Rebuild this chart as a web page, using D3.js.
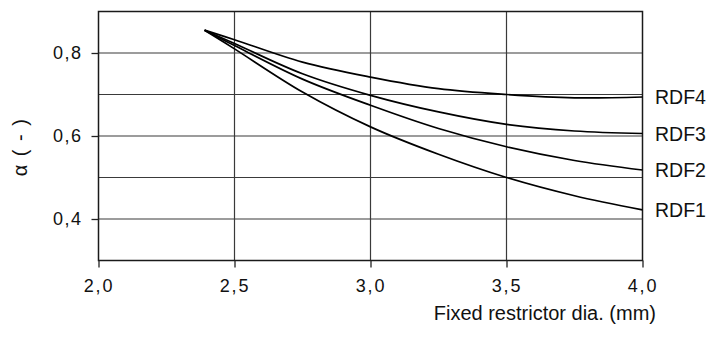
<!DOCTYPE html>
<html>
<head>
<meta charset="utf-8">
<script src="https://cdn.jsdelivr.net/npm/d3@7"></script>
<style>
  body { margin: 0; background: #fff; }
  svg text { font-family: "Liberation Sans", Arial, sans-serif; fill: #111; }
</style>
</head>
<body>
<svg></svg>
<script>
const width = 708;
const height = 338;

// diameters (mm)
const diameters = [2.39, 2.5, 2.75, 3.0, 3.25, 3.5, 3.75, 4.0];

const seriesNames = ["RDF1", "RDF2", "RDF3", "RDF4"];

const rdf1 = [0.855, 0.810, 0.706, 0.622, 0.556, 0.500, 0.456, 0.422];
const rdf2 = [0.855, 0.818, 0.737, 0.674, 0.618, 0.574, 0.541, 0.518];
const rdf3 = [0.855, 0.823, 0.750, 0.698, 0.658, 0.628, 0.612, 0.606];
const rdf4 = [0.855, 0.832, 0.778, 0.742, 0.714, 0.700, 0.692, 0.694];

const xTicks = [2.0, 2.5, 3.0, 3.5, 4.0];
const yGrid = [0.4, 0.5, 0.6, 0.7, 0.8];
const yLabelled = [0.4, 0.6, 0.8];

const svg = d3.select("svg")
  .attr("width", width)
  .attr("height", height);

const x = d3.scaleLinear().domain([2.0, 4.0]).range([98.5, 642.5]);
const y = d3.scaleLinear().domain([0.3, 0.9]).range([260.5, 11.5]);

const fmt = d => d3.format(".1f")(d).replace(".", ",");

// grid
svg.append("g")
  .selectAll("line")
  .data(yGrid)
  .join("line")
  .attr("x1", x.range()[0])
  .attr("x2", x.range()[1])
  .attr("y1", d => y(d))
  .attr("y2", d => y(d))
  .attr("stroke", "#3a3a3a")
  .attr("stroke-width", 1.2);

svg.append("g")
  .selectAll("line")
  .data(xTicks.slice(1, -1))
  .join("line")
  .attr("x1", d => x(d))
  .attr("x2", d => x(d))
  .attr("y1", y.range()[1])
  .attr("y2", y.range()[0])
  .attr("stroke", "#3a3a3a")
  .attr("stroke-width", 1.2);

// frame
svg.append("rect")
  .attr("x", x.range()[0])
  .attr("y", y.range()[1])
  .attr("width", x.range()[1] - x.range()[0])
  .attr("height", y.range()[0] - y.range()[1])
  .attr("fill", "none")
  .attr("stroke", "#1a1a1a")
  .attr("stroke-width", 1.5);

// x axis
const xAxis = d3.axisBottom(x)
  .tickValues(xTicks)
  .tickFormat(fmt)
  .tickSize(7)
  .tickPadding(12);

const gx = svg.append("g")
  .attr("transform", `translate(0,${y.range()[0]})`)
  .call(xAxis);

gx.select(".domain").remove();
gx.selectAll("line").attr("stroke", "#222").attr("stroke-width", 1.3);
gx.selectAll("text")
  .attr("font-size", 18)
  .attr("letter-spacing", 1.8)
  .attr("fill", "#111");

// y axis
const yAxis = d3.axisLeft(y)
  .tickValues(yLabelled)
  .tickFormat(fmt)
  .tickSize(7)
  .tickPadding(9);

const gy = svg.append("g")
  .attr("transform", `translate(${x.range()[0]},0)`)
  .call(yAxis);

gy.select(".domain").remove();
gy.selectAll("line").attr("stroke", "#222").attr("stroke-width", 1.3);
gy.selectAll("text")
  .attr("font-size", 18)
  .attr("letter-spacing", 1.5)
  .attr("fill", "#111");

// axis titles
svg.append("text")
  .attr("x", 656)
  .attr("y", 320)
  .attr("text-anchor", "end")
  .attr("font-size", 20)
  .text("Fixed restrictor dia. (mm)");

svg.append("text")
  .attr("transform", "translate(27,147) rotate(-90)")
  .attr("text-anchor", "middle")
  .attr("font-size", 20)
  .attr("letter-spacing", 1.5)
  .text("α ( - )");

// curves
const series = [rdf1, rdf2, rdf3, rdf4].map((vals, i) => ({
  name: seriesNames[i],
  points: vals.map((v, j) => [diameters[j], v])
}));

const line = d3.line()
  .x(d => x(d[0]))
  .y(d => y(d[1]))
  .curve(d3.curveCatmullRom.alpha(0.5));

svg.append("g")
  .selectAll("path")
  .data(series)
  .join("path")
  .attr("d", d => line(d.points))
  .attr("fill", "none")
  .attr("stroke", "#000")
  .attr("stroke-width", 1.7);

svg.append("g")
  .selectAll("text")
  .data(series)
  .join("text")
  .attr("x", 655)
  .attr("y", d => y(d.points[d.points.length - 1][1]))
  .attr("dy", "0.36em")
  .attr("font-size", 19.5)
  .text(d => d.name);
</script>
</body>
</html>
